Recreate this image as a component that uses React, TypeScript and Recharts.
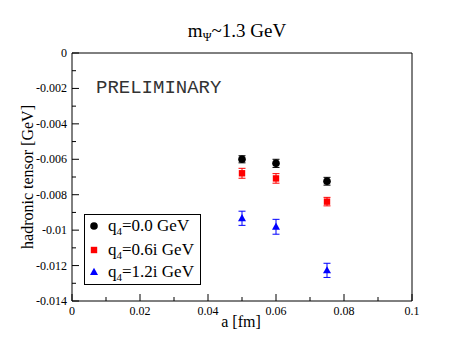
import { ScatterChart, Scatter, XAxis, YAxis, ErrorBar, Legend } from "recharts";

const latticeSpacing = [0.05, 0.06, 0.075];
const q0Values = [-0.006, -0.00623, -0.00724];
const q0Errors = [0.0002, 0.00023, 0.00022];
const q06Values = [-0.00679, -0.00708, -0.00839];
const q06Errors = [0.00028, 0.00027, 0.00024];
const q12Values = [-0.00933, -0.00981, -0.01227];
const q12Errors = [0.0004, 0.00042, 0.0004];

const xTicks = [0, 0.01, 0.02, 0.03, 0.04, 0.05, 0.06, 0.07, 0.08, 0.09, 0.1];
const yTicks = [
  0, -0.001, -0.002, -0.003, -0.004, -0.005, -0.006, -0.007, -0.008, -0.009, -0.01, -0.011, -0.012,
  -0.013, -0.014,
];

const serif = "'Liberation Serif', 'Times New Roman', serif";

const toPoints = (vals: number[], errs: number[]) =>
  latticeSpacing.map((a, i) => ({ a, h: vals[i], err: errs[i] }));

const series = [
  { name: "0.0", color: "#000000", data: toPoints(q0Values, q0Errors), marker: "circle" },
  { name: "0.6i", color: "#ff0000", data: toPoints(q06Values, q06Errors), marker: "square" },
  { name: "1.2i", color: "#0000ff", data: toPoints(q12Values, q12Errors), marker: "triangle" },
];

const fmt = (v: number) => (Math.abs(v) < 1e-12 ? "0" : String(+v.toFixed(3)));
const isMajor = (v: number, step: number) => Math.abs(v / step - Math.round(v / step)) < 1e-6;

function Marker({ kind, cx, cy, color }: { kind: string; cx: number; cy: number; color: string }) {
  if (kind === "circle") return <circle cx={cx} cy={cy} r={3.8} fill={color} />;
  if (kind === "square") return <rect x={cx - 3.2} y={cy - 3.2} width={6.4} height={6.4} fill={color} />;
  return <polygon points={`${cx},${cy - 4.2} ${cx - 4},${cy + 3} ${cx + 4},${cy + 3}`} fill={color} />;
}

function makeTick(side: "bottom" | "top" | "left" | "right") {
  return (props: any) => {
    const { x, y, payload } = props;
    const v = payload.value;
    const horiz = side === "bottom" || side === "top";
    const major = isMajor(v, horiz ? 0.02 : 0.002);
    const len = major ? 7 : 4;
    const dir = side === "bottom" || side === "right" ? -1 : 1;
    return (
      <g>
        {horiz ? (
          <line x1={x} x2={x} y1={y} y2={y + dir * len} stroke="#000" />
        ) : (
          <line x1={x} x2={x + dir * len} y1={y} y2={y} stroke="#000" />
        )}
        {major && side === "bottom" && (
          <text x={x} y={y + 14} textAnchor="middle" fontSize={12} fontFamily={serif} fill="#000">
            {fmt(v)}
          </text>
        )}
        {major && side === "left" && (
          <text x={x - 5} y={y + 4} textAnchor="end" fontSize={12} fontFamily={serif} fill="#000">
            {fmt(v)}
          </text>
        )}
      </g>
    );
  };
}

function LegendBox() {
  return (
    <div
      style={{
        position: "relative",
        width: 117,
        height: 71,
        boxSizing: "border-box",
        border: "1px solid #000",
        background: "#fff",
        fontFamily: serif,
        fontSize: 17,
        color: "#000",
      }}
    >
      {series.map((s, i) => (
        <div
          key={s.name}
          style={{ position: "absolute", left: 0, top: [0, 24, 46][i], height: 22, display: "flex", alignItems: "center" }}
        >
          <svg width={20} height={22}>
            <Marker kind={s.marker} cx={9} cy={11} color={s.color} />
          </svg>
          <span style={{ marginLeft: 3, whiteSpace: "nowrap" }}>
            q<span style={{ fontSize: 11, verticalAlign: -4 }}>4</span>={s.name} GeV
          </span>
        </div>
      ))}
    </div>
  );
}

export default function App() {
  return (
    <div style={{ position: "absolute", left: 0, top: 0, width: 463, height: 354, background: "#fff" }}>
      <ScatterChart width={463} height={354} margin={{ top: 0, right: 0, bottom: 0, left: 0 }}>
        <XAxis
          xAxisId="b"
          dataKey="a"
          type="number"
          orientation="bottom"
          domain={[0, 0.1]}
          ticks={xTicks}
          height={53}
          tickSize={0}
          tickMargin={0}
          tickLine={false}
          axisLine={{ stroke: "#000" }}
          tick={makeTick("bottom")}
          interval={0}
          label={{
            content: () => (
              <text x={241} y={327} textAnchor="middle" fontSize={16} fontFamily={serif} fill="#000">
                a [fm]
              </text>
            ),
          }}
        />
        <XAxis
          xAxisId="t"
          type="number"
          orientation="top"
          domain={[0, 0.1]}
          ticks={xTicks}
          height={53}
          tickSize={0}
          tickMargin={0}
          tickLine={false}
          axisLine={{ stroke: "#000" }}
          tick={makeTick("top")}
          interval={0}
          label={{
            content: () => (
              <text x={237} y={37} textAnchor="middle" fontSize={19} fontFamily={serif} fill="#000">
                m<tspan fontSize={12} dy={4}>Ψ</tspan>
                <tspan dy={-4}>~1.3 GeV</tspan>
              </text>
            ),
          }}
        />
        <YAxis
          yAxisId="l"
          dataKey="h"
          type="number"
          orientation="left"
          domain={[-0.014, 0]}
          ticks={yTicks}
          width={72}
          tickSize={0}
          tickMargin={0}
          tickLine={false}
          axisLine={{ stroke: "#000" }}
          tick={makeTick("left")}
          interval={0}
          label={{
            content: () => (
              <text
                transform="translate(33,177) rotate(-90)"
                textAnchor="middle"
                fontSize={16}
                fontFamily={serif}
                fill="#000"
              >
                hadronic tensor [GeV]
              </text>
            ),
          }}
        />
        <YAxis
          yAxisId="r"
          type="number"
          orientation="right"
          domain={[-0.014, 0]}
          ticks={yTicks}
          width={51}
          tickSize={0}
          tickMargin={0}
          tickLine={false}
          axisLine={{ stroke: "#000" }}
          tick={makeTick("right")}
          interval={0}
        />
        {series.map((s) => (
          <Scatter
            key={s.name}
            name={s.name}
            data={s.data}
            xAxisId="b"
            yAxisId="l"
            fill={s.color}
            isAnimationActive={false}
            shape={(p: any) => <Marker kind={s.marker} cx={p.cx} cy={p.cy} color={s.color} />}
          >
            <ErrorBar dataKey="err" direction="y" width={3.5} stroke={s.color} strokeWidth={1} />
          </Scatter>
        ))}
        <Legend
          layout="horizontal"
          verticalAlign="middle"
          align="center"
          content={() => <LegendBox />}
          wrapperStyle={{ left: 84, top: 214, width: 117, height: 71 }}
        />
      </ScatterChart>
      <div
        style={{
          position: "absolute",
          left: 96,
          top: 77,
          fontFamily: "'Liberation Mono', 'Courier New', monospace",
          fontSize: 19,
          lineHeight: "22px",
          color: "#333",
        }}
      >
        PRELIMINARY
      </div>
    </div>
  );
}
